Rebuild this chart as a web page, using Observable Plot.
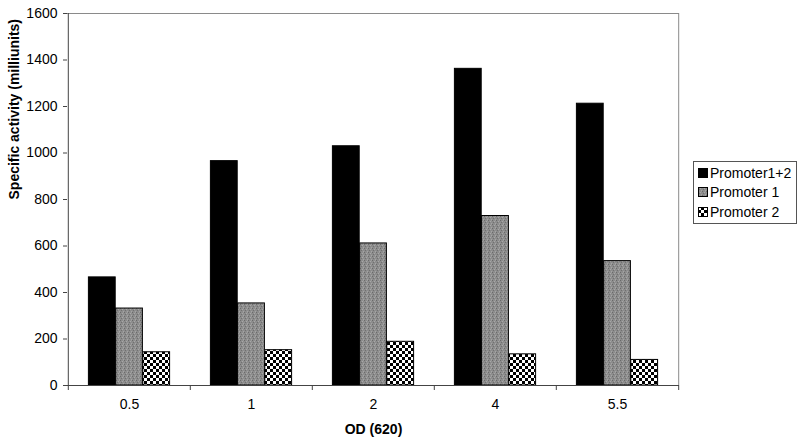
<!DOCTYPE html>
<html><head><meta charset="utf-8">
<script src="https://cdn.jsdelivr.net/npm/d3@7"></script>
<script src="https://cdn.jsdelivr.net/npm/@observablehq/plot@0.6"></script>
<style>
body{margin:0;background:#fff;font-family:Arial,"Liberation Sans",sans-serif;}
#wrap{position:relative;width:800px;height:441px;}
#legend{position:absolute;left:693px;top:161px;width:104px;height:63px;border:1px solid #555;box-sizing:border-box;background:#fff;padding-top:1px;}
.row{display:flex;align-items:center;height:19.5px;font-size:14px;color:#000;}
.row svg{margin-left:4px;margin-right:2px;}
</style>
</head><body>
<svg width="0" height="0" style="position:absolute">
  <defs>
    <pattern id="checker" width="6" height="6" patternUnits="userSpaceOnUse">
      <rect width="6" height="6" fill="#000"/>
      <rect width="3" height="3" fill="#fff"/>
      <rect x="3" y="3" width="3" height="3" fill="#fff"/>
    </pattern>
    <pattern id="stipple" width="4" height="4" patternUnits="userSpaceOnUse">
      <rect width="4" height="4" fill="#8c8c8c"/>
      <rect x="0" y="0" width="1" height="1" fill="#6a6a6a"/>
      <rect x="2" y="1" width="1" height="1" fill="#a8a8a8"/>
      <rect x="1" y="2" width="1" height="1" fill="#707070"/>
      <rect x="3" y="3" width="1" height="1" fill="#a4a4a4"/>
      <rect x="3" y="0" width="1" height="1" fill="#9a9a9a"/>
    </pattern>
  </defs>
</svg>
<div id="wrap"></div>
<script>
const ods = ["0.5", "1", "2", "4", "5.5"];
const promoter12 = [465, 965, 1029, 1362, 1212];
const promoter1 = [331, 353, 611, 729, 535];
const promoter2 = [143, 152, 188, 134, 110];
const seriesNames = ["Promoter1+2", "Promoter 1", "Promoter 2"];
const seriesFills = ["#000", "url(#stipple)", "url(#checker)"];
const yTicks = [0, 200, 400, 600, 800, 1000, 1200, 1400, 1600];
const xTitle = "OD (620)";
const yTitle = "Specific activity (milliunits)";

const rows = ods.map((od, i) => ({od, s0: promoter12[i], s1: promoter1[i], s2: promoter2[i]}));

const W = 800, H = 441, ML = 67, MR = 121, MT = 13, MB = 56;
const band = (W - ML - MR) / ods.length;
const bw = band / 4.5;
const gap = bw * 0.75;

const chart = Plot.plot({
  width: W, height: H,
  marginLeft: ML, marginRight: MR, marginTop: MT, marginBottom: MB,
  style: {fontFamily: "Arial, 'Liberation Sans', sans-serif", fontSize: "14px", color: "#000", background: "#fff"},
  x: {domain: ods, padding: 0, label: null},
  y: {domain: [0, 1600], label: null},
  marks: [
    Plot.ruleY([1600], {stroke: "#8a8a8a"}),
    Plot.ruleX([ods[ods.length - 1]], {dx: band / 2, stroke: "#8a8a8a"}),
    ...seriesNames.map((name, i) => Plot.barY(rows, {
      x: "od", y: "s" + i, fill: seriesFills[i], stroke: "#000", strokeWidth: 1,
      insetLeft: gap + i * bw, insetRight: band - gap - (i + 1) * bw
    })),
    Plot.ruleY([0], {stroke: "#444"}),
    Plot.ruleX([ods[0]], {dx: -band / 2, stroke: "#444"}),
    Plot.axisX({tickSize: 0, tickPadding: 14, label: null, fontSize: 14}),
    Plot.axisX({tickSize: 5, tickFormat: () => "", dx: -band / 2, label: null, stroke: "#444"}),
    Plot.axisX({ticks: [ods[ods.length - 1]], tickSize: 5, tickFormat: () => "", dx: band / 2, label: null, stroke: "#444"}),
    Plot.axisY({ticks: yTicks, tickFormat: d => String(d), tickSize: 4, tickPadding: 6, label: null, fontSize: 14, stroke: "#444"}),
    Plot.text([xTitle], {frameAnchor: "bottom", dy: 48, fontWeight: "bold", fontSize: 14}),
    Plot.text([yTitle], {frameAnchor: "left", rotate: -90, dx: -53, fontWeight: "bold", fontSize: 14})
  ]
});
const wrap = document.getElementById("wrap");
wrap.appendChild(chart);

const legend = document.createElement("div");
legend.id = "legend";
seriesNames.forEach((name, i) => {
  const row = document.createElement("div");
  row.className = "row";
  row.innerHTML = `<svg width="10" height="10"><rect x="0.5" y="0.5" width="9" height="9" fill="${seriesFills[i]}" stroke="#000"/></svg><span>${name}</span>`;
  legend.appendChild(row);
});
wrap.appendChild(legend);
</script>
</body></html>
